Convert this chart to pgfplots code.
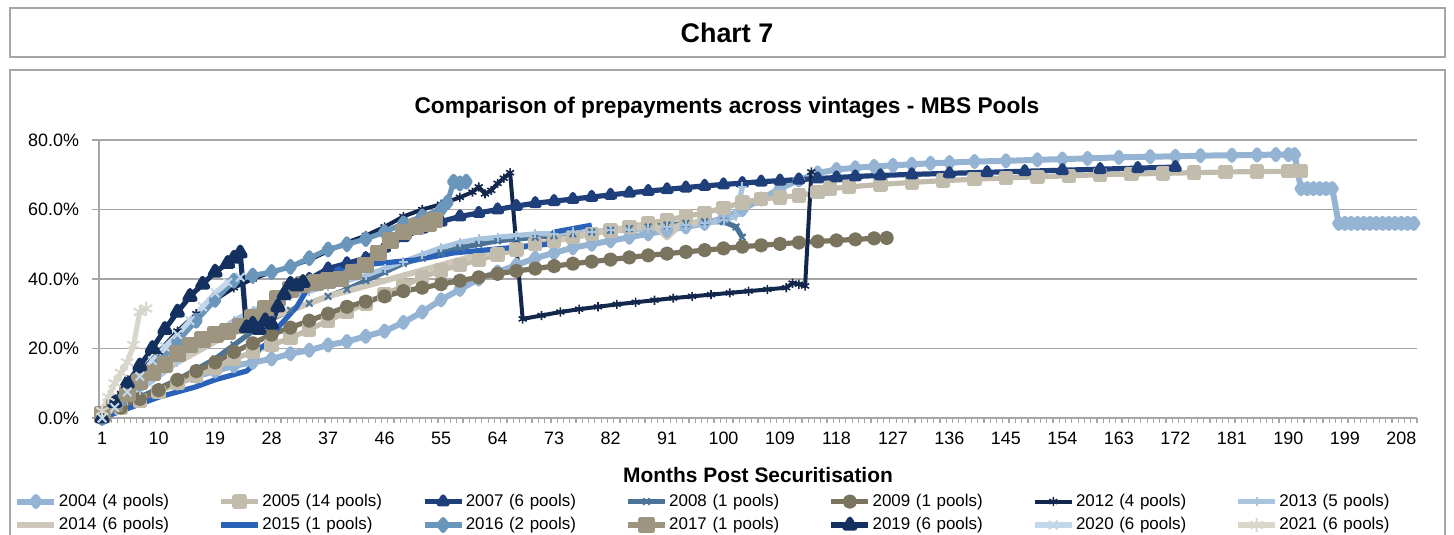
\documentclass[border=0pt]{standalone}
\usepackage{fontspec}
\setmainfont{Liberation Sans}
\usepackage{pgfplots}
\pgfplotsset{compat=1.18}
\definecolor{cA}{HTML}{95B3D3}% 2004
\definecolor{cB}{HTML}{C2BCAD}% 2005
\definecolor{cC}{HTML}{1F3F7A}% 2007
\definecolor{cD}{HTML}{4A7397}% 2008
\definecolor{cE}{HTML}{7A735D}% 2009
\definecolor{cF}{HTML}{13274D}% 2012
\definecolor{cG}{HTML}{A9C4DF}% 2013
\definecolor{cH}{HTML}{CCC7B9}% 2014
\definecolor{cI}{HTML}{2A62B9}% 2015
\definecolor{cJ}{HTML}{6A96BB}% 2016
\definecolor{cK}{HTML}{9D957F}% 2017
\definecolor{cL}{HTML}{14305E}% 2019
\definecolor{cM}{HTML}{C4D6E9}% 2020
\definecolor{cN}{HTML}{D9D6CB}% 2021
\definecolor{frame}{HTML}{A6A6A6}
\begin{document}
\begin{tikzpicture}[x=0.5bp,y=0.5bp]
% pixel grid: x to the right, y measured up from the bottom edge (535 px high)
\useasboundingbox (0,0) rectangle (1454,535);
\draw[frame, line width=1.2bp] (10,478) rectangle (1445,527);
\node[font=\bfseries\fontsize{13.5}{15}\selectfont] at (727,502) {Chart 7};
\draw[frame, line width=1.2bp] (10,-30) rectangle (1445,465);
\node[font=\bfseries\fontsize{11.4}{13}\selectfont] at (727,427) {Comparison of prepayments across vintages - MBS Pools};
\begin{axis}[
    at={(49.5bp,58.5bp)}, anchor=south west,
    scale only axis, width=659bp, height=139bp,
    xmin=0.5, xmax=210.5, ymin=0, ymax=80,
    axis x line=bottom, axis y line=left,
    axis line style={frame, line width=0.8bp, -},
    tick align=outside,
    xtick={1,10,...,208},
    major x tick style={draw=none},
    minor xtick={0.5,1.5,...,210.5},
    minor x tick style={frame, line width=0.6bp},
    minor tick length=2.5bp,
    ytick={0,20,...,80},
    major tick length=3.5bp,
    y tick style={frame, line width=0.8bp},
    ymajorgrids, grid style={frame, line width=0.8bp},
    /pgf/number format/assume math mode=true,
    yticklabel={\pgfmathprintnumber[fixed,fixed zerofill,precision=1]{\tick}\%},
    ticklabel style={font=\fontsize{9}{11}\selectfont},
    yticklabel style={xshift=-3bp},
    xlabel={Months Post Securitisation},
    xlabel style={font=\bfseries\fontsize{10.5}{12}\selectfont,
                  at={(axis description cs:0.5,-0.205)}, anchor=center},
    legend columns=7,
    legend cell align=left,
    legend image code/.code={\draw[mark repeat=2,mark phase=2,#1]
        plot coordinates {(0bp,0bp) (9.25bp,0bp) (18.5bp,0bp)};},
    legend style={at={(axis description cs:-0.0645,-0.266)}, anchor=north west,
        draw=none, fill=none, inner sep=0pt,
        font=\fontsize{8.5}{10}\selectfont,
        nodes={inner sep=0.8bp},
        row sep=2.5bp,
        /tikz/every even column/.append style={text width=79bp}},
    every axis plot/.append style={line width=2.6bp, line join=round, mark size=2.3bp},
]
% 2004 (4 pools)
\addplot[cA, mark=diamond*, mark options={fill=cA, solid}, line width=3bp] coordinates {
 (1,0) (4,3) (7,5.5) (10,8) (13,10) (16,12) (19,13.5) (22,15) (25,16) (28,17)
 (31,18.5) (34,19.5) (37,21) (40,22) (43,23.5) (46,25) (49,27.5) (52,30.5) (55,34)
 (58,37) (61,40) (64,42) (67,44) (70,46) (73,47.5) (76,49) (79,50) (82,51) (85,52)
 (88,53) (91,54) (94,55) (97,56) (100,57.5) (103,60) (106,63) (109,66) (112,68.5)
 (115,70.5) (118,71.5) (121,72) (124,72.4) (127,72.7) (130,73) (133,73.3) (136,73.5)
 (140,73.8) (145,74) (150,74.3) (154,74.5) (158,74.7) (163,75) (168,75.2) (172,75.3)
 (176,75.5) (181,75.6) (185,75.7) (188,75.8) (190,75.8) (191,75.8)
 (192,66) (193,66) (194,66) (195,66) (196,66) (197,66)
 (198,56) (199,56) (200,56) (201,56) (202,56) (203,56) (204,56) (205,56) (206,56)
 (207,56) (208,56) (209,56) (210,56)
};
\addlegendentry{2004 (4 pools)}
% 2005 (14 pools)
\addplot[cB, mark=square*, mark options={fill=cB, solid}] coordinates {
 (1,1) (4,3) (7,5) (10,7.5) (13,10) (16,12) (19,14.5) (22,17) (25,19) (28,21)
 (31,23) (34,25.5) (37,28) (40,30.5) (43,33) (46,35.5) (49,38) (52,40.5) (55,42.5)
 (58,44) (61,45.5) (64,47) (67,48.5) (70,50) (73,51) (76,52) (79,53) (82,54) (85,55)
 (88,56) (91,57) (94,58) (97,59) (100,60.5) (103,62) (106,63) (109,63.5) (112,64)
 (115,65) (117,66) (120,66.5) (125,67.2) (130,67.8) (135,68.3) (140,68.7) (145,69.1)
 (150,69.4) (155,69.7) (160,70) (165,70.2) (170,70.4) (175,70.6) (180,70.8)
 (185,70.9) (190,71) (192,71)
};
\addlegendentry{2005 (14 pools)}
% 2007 (6 pools)
\addplot[cC, mark=triangle*, mark options={fill=cC, solid}] coordinates {
 (31,38.5) (34,40) (37,43) (40,44.5) (43,46) (46,49) (49,52) (52,54.5) (55,56.5)
 (58,58) (61,59) (64,60) (67,61) (70,61.8) (73,62.4) (76,63) (79,63.6) (82,64.2)
 (85,64.8) (88,65.3) (91,65.8) (94,66.3) (97,66.8) (100,67.2) (103,67.6) (106,68)
 (109,68.3) (112,68.6) (115,68.9) (118,69.2) (121,69.5) (125,69.8) (130,70.1)
 (136,70.4) (142,70.7) (148,71) (154,71.3) (160,71.6) (166,71.9) (172,72.2)
};
\addlegendentry{2007 (6 pools)}
% 2008 (1 pools)
\addplot[cD, mark=x, mark options={solid, line width=1bp}] coordinates {
 (1,0) (4,3) (7,6) (10,8.5) (13,11) (16,14) (19,17) (22,21) (25,25) (28,28.5)
 (31,31) (34,33) (37,35) (40,37) (43,39.5) (46,42) (49,44.5) (52,46) (55,47.5)
 (58,49) (61,50) (64,51) (67,51.5) (70,52) (73,52.5) (76,53) (79,53.5) (82,54)
 (85,54.5) (88,55) (91,55.5) (94,56) (97,56.5) (100,56.5) (102,55) (103,52)
};
\addlegendentry{2008 (1 pools)}
% 2009 (1 pools)
\addplot[cE, mark=*, mark options={fill=cE, solid}] coordinates {
 (1,0) (4,3) (7,5.5) (10,8) (13,11) (16,13.5) (19,16) (22,19) (25,21.5) (28,24)
 (31,26) (34,28) (37,30) (40,32) (43,33.5) (46,35) (49,36.5) (52,37.5) (55,38.5)
 (58,39.5) (61,40.5) (64,41.5) (67,42.3) (70,43) (73,43.7) (76,44.4) (79,45)
 (82,45.6) (85,46.2) (88,46.8) (91,47.3) (94,47.8) (97,48.3) (100,48.8) (103,49.3)
 (106,49.7) (109,50.1) (112,50.5) (115,50.8) (118,51.1) (121,51.4) (124,51.7) (126,51.8)
};
\addlegendentry{2009 (1 pools)}
% 2012 (4 pools)
\addplot[cF, mark=asterisk, mark options={solid, line width=0.8bp}, line width=2bp] coordinates {
 (1,0) (4,7) (7,13) (10,19) (13,25) (16,30) (19,34) (22,37.5) (25,40) (28,42)
 (31,43.5) (34,45.5) (37,48) (40,50.5) (43,52.5) (46,55) (49,58) (52,60) (55,61.5)
 (58,63.5) (60,65) (61,66.5) (62,64.5) (63,65.5) (64,67.5) (65,69) (66,70.6)
 (68,28.5) (71,29.5) (74,30.5) (77,31.3) (80,32) (83,32.7) (86,33.3) (89,33.9)
 (92,34.5) (95,35) (98,35.5) (101,36) (104,36.5) (107,37) (110,37.5) (111,38.8)
 (112,38.5) (113,38) (114,70.8)
};
\addlegendentry{2012 (4 pools)}
% 2013 (5 pools)
\addplot[cG, mark=+, mark options={solid, line width=1bp}] coordinates {
 (1,0) (4,4) (7,8) (10,12) (13,16) (16,20) (19,24) (22,28) (25,31) (28,33)
 (31,35) (34,36.5) (37,38) (40,39.5) (43,41) (46,43) (49,45) (52,47) (55,49)
 (58,50.5) (61,51.5) (64,52) (67,52.5) (70,53) (73,53) (76,53.5) (79,53.5) (82,54)
 (85,54) (88,54.5) (91,55) (94,55.5) (97,56) (100,57) (102,58) (103,66.5)
};
\addlegendentry{2013 (5 pools)}
% 2014 (6 pools)
\addplot[cH, line width=3bp] coordinates {
 (1,2) (4,6) (7,10) (10,13) (13,16) (16,19) (19,22) (22,24.5) (25,27) (28,29)
 (31,31) (34,33) (37,35) (40,36.5) (43,38) (46,39.5) (49,41) (52,42.5) (55,44)
 (58,45.5) (61,47) (64,48) (67,49) (70,50) (73,51) (76,52) (79,53) (82,54)
 (85,54.5) (88,55.5) (89,55.5) (91,52) (93,55.5) (96,56.5) (98,57)
};
\addlegendentry{2014 (6 pools)}
% 2015 (1 pools)
\addplot[cI, line width=2.6bp] coordinates {
 (1,0) (4,2) (7,4) (10,6) (13,7.5) (16,9) (19,11) (22,12.5) (24,13.5) (25,15)
 (26,20) (27,21) (28,23) (29,26) (30,28) (31,30) (32,32) (33,35) (34,38) (36,41)
 (39,43) (42,44) (45,44.5) (48,45) (51,45.5) (54,46.5) (57,47.5) (60,48) (63,48.5)
 (66,49) (69,49.5) (72,50) (73,53.5) (76,54.5) (79,55.5)
};
\addlegendentry{2015 (1 pools)}
% 2016 (2 pools)
\addplot[cJ, mark=diamond*, mark options={fill=cJ, solid}, mark size=2.7bp] coordinates {
 (1,0) (4,5) (7,10) (10,16) (13,22) (16,28) (19,34) (22,39.5) (25,41) (28,42)
 (31,43.5) (34,46) (37,48.5) (40,50) (43,51.5) (46,53.5) (49,56) (52,58) (55,60)
 (56,62) (57,68) (58,67.5) (59,68)
};
\addlegendentry{2016 (2 pools)}
% 2017 (1 pools)
\addplot[cK, mark=square*, mark options={fill=cK, solid}, mark size=2.9bp] coordinates {
 (1,1) (3,4) (5,7) (7,10.5) (9,13) (11,15.5) (13,18.5) (15,21) (17,22.5) (19,24)
 (21,25) (23,26.5) (25,29) (27,31.5) (29,34.5) (31,37) (33,38.5) (35,39) (37,39.5)
 (39,40) (41,42) (43,44) (45,47.5) (47,51) (49,53.5) (51,55) (53,56) (54,57)
};
\addlegendentry{2017 (1 pools)}
% 2019 (6 pools)
\addplot[cL, mark=triangle*, mark options={fill=cL, solid}, mark size=2.9bp] coordinates {
 (1,0) (3,4.5) (5,10) (7,15) (9,20) (11,25.5) (13,30.5) (15,35) (17,38.5) (19,42)
 (21,44.5) (22,46) (23,47.5) (24,26) (25,27) (26,25.5) (27,28) (28,27) (29,32)
 (30,35.5) (31,38.5) (32,38) (33,39)
};
\addlegendentry{2019 (6 pools)}
% 2020 (6 pools)
\addplot[cM, mark=x, mark options={solid, line width=1bp}, mark size=3bp] coordinates {
 (1,0) (3,3) (5,7.5) (7,12) (9,16.5) (11,20.5) (13,24) (15,28) (17,32) (19,36)
 (21,39) (23,40.5)
};
\addlegendentry{2020 (6 pools)}
% 2021 (6 pools)
\addplot[cN, mark=asterisk, mark options={solid, line width=1bp}, mark size=3.5bp] coordinates {
 (1,2) (2,6) (3,10) (4,13) (5,16) (6,21) (7,30.5) (8,31.5)
};
\addlegendentry{2021 (6 pools)}
\end{axis}
\end{tikzpicture}
\end{document}
